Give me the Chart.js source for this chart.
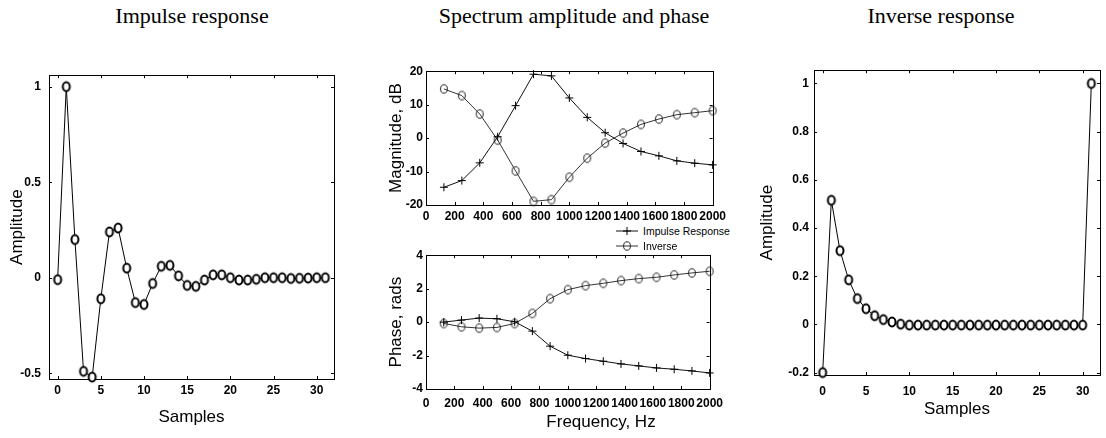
<!DOCTYPE html>
<html>
<head>
<meta charset="utf-8">
<script src="https://cdn.jsdelivr.net/npm/chart.js@4.4.0/dist/chart.umd.min.js"></script>
<style>
    body { margin: 0; background: #fff; }
    #page { position: relative; width: 1106px; height: 438px; overflow: hidden; font-family: "Liberation Sans", Arial, sans-serif; color: #000; }
    #page canvas { position: absolute; }
    .panel-title { position: absolute; top: 3px; height: 26px; line-height: 26px; font-family: "Liberation Serif", "Times New Roman", serif; font-size: 22px; text-align: center; white-space: nowrap; }
    .axis-title { position: absolute; font-size: 17px; line-height: 20px; text-align: center; white-space: nowrap; }
    .legend-row { position: absolute; height: 12px; line-height: 12px; font-size: 10.5px; white-space: nowrap; }
    .legend-row svg { position: absolute; left: 0; top: 0; }
    .legend-row span { position: absolute; left: 27px; top: 0; }
</style>
</head>
<body>
<div id="page">
    <div class="panel-title" style="left:92px; width:200px;">Impulse response</div>
    <div class="panel-title" style="left:424px; width:300px;">Spectrum amplitude and phase</div>
    <div class="panel-title" style="left:841px; width:200px;">Inverse response</div>

    <canvas id="impulse-chart" width="340" height="378" style="left:0; top:60px;"></canvas>
    <canvas id="magnitude-chart" width="360" height="164" style="left:370px; top:61px;"></canvas>
    <canvas id="phase-chart" width="360" height="193" style="left:370px; top:245px;"></canvas>
    <canvas id="inverse-chart" width="356" height="380" style="left:750px; top:58px;"></canvas>

    <div id="spectrum-legend"></div>
    <div class="axis-title" style="left:501px; top:412px; width:200px;">Frequency, Hz</div>
</div>

<script>
// Values
const samples = [0, 1, 2, 3, 4, 5, 6, 7, 8, 9, 10, 11, 12, 13, 14, 15,
    16, 17, 18, 19, 20, 21, 22, 23, 24, 25, 26, 27, 28, 29, 30, 31];
const impulse = [-0.01, 1.0, 0.2, -0.49, -0.52, -0.11, 0.24, 0.26, 0.05, -0.13, -0.14, -0.03, 0.06, 0.065, 0.01, -0.04,
    -0.045, -0.012, 0.015, 0.015, 0, -0.012, -0.012, -0.008, 0, 0, 0, -0.004, -0.003, -0.002, 0, 0];
const inverse = [-0.2, 0.515, 0.306, 0.185, 0.107, 0.065, 0.036, 0.02, 0.01, 0.001, -0.003, -0.003, -0.003, -0.003, -0.003, -0.003,
    -0.003, -0.003, -0.003, -0.003, -0.003, -0.003, -0.003, -0.003, -0.003, -0.003, -0.003, -0.003, -0.003, -0.003, -0.003, 1.0];

const freqs = [125, 250, 375, 500, 625, 750, 875, 1000, 1125, 1250, 1375, 1500, 1625, 1750, 1875, 2000];
const magImpulse = [-14.7, -12.7, -7.4, 0.4, 9.7, 19.1, 18.6, 12.0, 6.2, 1.6, -1.6, -4.0, -5.3, -6.8, -7.5, -8.0];
const magInverse = [14.7, 12.7, 7.2, -0.6, -9.8, -18.9, -18.4, -11.7, -6.0, -1.5, 1.5, 4.1, 5.7, 7.0, 7.6, 8.2];
const phaseImpulse = [0, 0.12, 0.24, 0.2, 0.02, -0.54, -1.44, -1.98, -2.18, -2.34, -2.5, -2.62, -2.74, -2.82, -2.92, -3.04];
const phaseInverse = [-0.08, -0.28, -0.36, -0.32, -0.08, 0.52, 1.4, 1.94, 2.18, 2.32, 2.48, 2.6, 2.68, 2.82, 2.94, 3.04];

const seriesNames = ['Impulse Response', 'Inverse'];

// Tick labels
const sampleTicks = [0, 5, 10, 15, 20, 25, 30];
const impulseTicks = [-0.5, 0, 0.5, 1];
const inverseTicks = [-0.2, 0, 0.2, 0.4, 0.6, 0.8, 1];
const freqTicks = [0, 200, 400, 600, 800, 1000, 1200, 1400, 1600, 1800, 2000];
const magTicks = [-20, -10, 0, 10, 20];
const phaseTicks = [-4, -2, 0, 2, 4];

const FONT = '"Liberation Sans", Arial, sans-serif';

// Hollow ellipse marker, like the scanned MATLAB circles
function ellipseMarker(rx, ry, lw, stroke, fill) {
    const c = document.createElement('canvas');
    c.width = Math.ceil(rx * 2 + lw * 2 + 1);
    c.height = Math.ceil(ry * 2 + lw * 2 + 1);
    const ctx = c.getContext('2d');
    ctx.beginPath();
    ctx.ellipse(c.width / 2, c.height / 2, rx, ry, 0, 0, Math.PI * 2);
    if (fill) {
        ctx.fillStyle = fill;
        ctx.fill();
    }
    ctx.lineWidth = lw;
    ctx.strokeStyle = stroke;
    ctx.stroke();
    return c;
}

const thickCircle = ellipseMarker(3.5, 4.4, 2, '#000', '#fff');
const thinCircle = ellipseMarker(3.4, 4.2, 1, '#222', null);

// Full box round the plot area with short inward ticks
const boxPlugin = {
    id: 'box',
    beforeDatasetsDraw(chart) {
        const { ctx, chartArea: a, scales } = chart;
        ctx.save();
        ctx.strokeStyle = '#000';
        ctx.lineWidth = 1;
        ctx.strokeRect(Math.round(a.left) + 0.5, Math.round(a.top) + 0.5,
            Math.round(a.right - a.left), Math.round(a.bottom - a.top));
        ctx.beginPath();
        scales.x.ticks.forEach(t => {
            const px = Math.round(scales.x.getPixelForValue(t.value)) + 0.5;
            ctx.moveTo(px, a.bottom); ctx.lineTo(px, a.bottom - 3);
            ctx.moveTo(px, a.top); ctx.lineTo(px, a.top + 3);
        });
        scales.y.ticks.forEach(t => {
            const py = Math.round(scales.y.getPixelForValue(t.value)) + 0.5;
            ctx.moveTo(a.left, py); ctx.lineTo(a.left + 3, py);
            ctx.moveTo(a.right, py); ctx.lineTo(a.right - 3, py);
        });
        ctx.stroke();
        ctx.restore();
    }
};

function scaleOpts(a, isX) {
    return {
        type: 'linear',
        position: isX ? 'bottom' : 'left',
        min: a.min,
        max: a.max,
        afterBuildTicks: s => { s.ticks = a.ticks.map(v => ({ value: v })); },
        afterFit: s => { if (isX) s.height = a.size; else s.width = a.size; },
        grid: { display: false, drawTicks: false },
        border: { display: false },
        ticks: {
            color: '#000',
            font: { family: FONT, size: 12, weight: 'bold' },
            padding: a.pad,
            autoSkip: false,
            maxRotation: 0,
            callback: v => String(v)
        },
        title: a.title ? {
            display: true,
            text: a.title,
            color: '#000',
            font: { family: FONT, size: 17 },
            padding: isX ? { top: 0, bottom: a.titlePad } : { top: a.titlePad, bottom: 0 }
        } : { display: false }
    };
}

function makeChart(id, o) {
    return new Chart(document.getElementById(id), {
        type: 'line',
        data: { datasets: o.datasets },
        options: {
            responsive: false,
            animation: false,
            devicePixelRatio: 1,
            events: [],
            layout: { padding: o.padding },
            plugins: { legend: { display: false }, tooltip: { enabled: false } },
            scales: { x: scaleOpts(o.x, true), y: scaleOpts(o.y, false) }
        },
        plugins: [boxPlugin]
    });
}

function xy(xs, ys) {
    return xs.map((x, i) => ({ x: x, y: ys[i] }));
}

function stemSeries(values, label) {
    return {
        label: label,
        data: xy(samples, values),
        borderColor: '#000',
        borderWidth: 1,
        pointStyle: thickCircle,
        pointRadius: 5,
        tension: 0,
        clip: false
    };
}

function spectrumSeries(values, idx) {
    const cross = idx === 0;
    return {
        label: seriesNames[idx],
        data: xy(freqs, values),
        borderColor: cross ? '#111' : '#333',
        borderWidth: 1,
        pointStyle: cross ? 'cross' : thinCircle,
        pointRadius: 4,
        pointBorderWidth: 1,
        pointBorderColor: '#000',
        tension: 0,
        clip: false
    };
}

// Impulse response
makeChart('impulse-chart', {
    padding: { top: 10, right: 5, left: 0, bottom: 0 },
    datasets: [stemSeries(impulse, 'Impulse')],
    x: { min: -1, max: 32, ticks: sampleTicks, size: 59, pad: 4, title: 'Samples', titlePad: 10 },
    y: { min: -0.53, max: 1.06, ticks: impulseTicks, size: 49, pad: 8, title: 'Amplitude', titlePad: 7 }
});

// Spectrum magnitude
makeChart('magnitude-chart', {
    padding: { top: 10, right: 8, left: 0, bottom: 0 },
    datasets: [spectrumSeries(magImpulse, 0), spectrumSeries(magInverse, 1)],
    x: { min: 0, max: 2000, ticks: freqTicks, size: 20, pad: 4 },
    y: { min: -20, max: 20, ticks: magTicks, size: 56, pad: 3, title: 'Magnitude, dB', titlePad: 16 }
});

// Spectrum phase
makeChart('phase-chart', {
    padding: { top: 10, right: 8, left: 0, bottom: 0 },
    datasets: [spectrumSeries(phaseImpulse, 0), spectrumSeries(phaseInverse, 1)],
    x: { min: 0, max: 2000, ticks: freqTicks, size: 49, pad: 7 },
    y: { min: -4, max: 4, ticks: phaseTicks, size: 56, pad: 3, title: 'Phase, rads', titlePad: 16 }
});

// Inverse response
makeChart('inverse-chart', {
    padding: { top: 10, right: 2, left: 0, bottom: 0 },
    datasets: [stemSeries(inverse, 'Inverse')],
    x: { min: -1, max: 32, ticks: sampleTicks, size: 63, pad: 9, title: 'Samples', titlePad: 18 },
    y: { min: -0.21, max: 1.055, ticks: inverseTicks, size: 64, pad: 5, title: 'Amplitude', titlePad: 7 }
});

// Legend between the two spectrum plots
const legendSymbols = [
    '<line x1="0" y1="6" x2="22" y2="6" stroke="#111"/><line x1="7" y1="6" x2="15" y2="6" stroke="#000"/><line x1="11" y1="2" x2="11" y2="10" stroke="#000"/>',
    '<line x1="0" y1="6" x2="22" y2="6" stroke="#333"/><ellipse cx="11" cy="6" rx="3.4" ry="4.2" fill="none" stroke="#222"/>'
];
const legendTops = [225, 240];
const legendBox = document.getElementById('spectrum-legend');
seriesNames.forEach((name, i) => {
    const row = document.createElement('div');
    row.className = 'legend-row';
    row.style.left = '616px';
    row.style.top = legendTops[i] + 'px';
    row.innerHTML = '<svg width="22" height="12">' + legendSymbols[i] + '</svg><span>' + name + '</span>';
    legendBox.appendChild(row);
});
</script>
</body>
</html>
